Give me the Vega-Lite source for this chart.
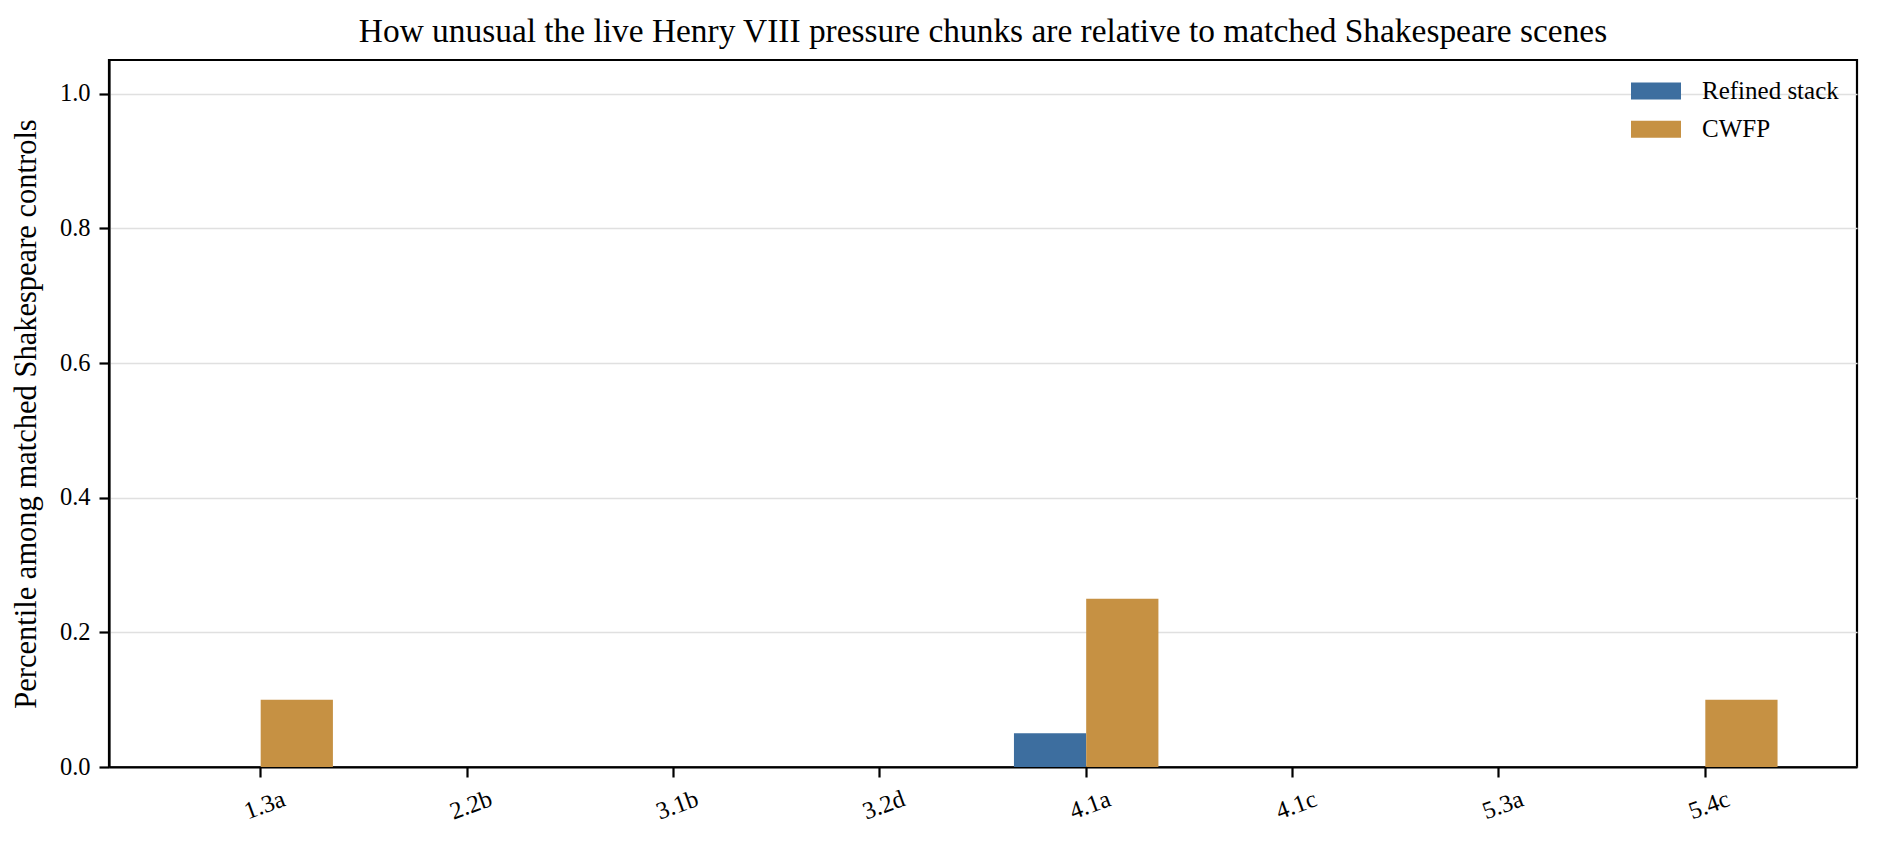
{
  "$schema": "https://vega.github.io/schema/vega-lite/v6.json",
  "width": 1748,
  "height": 707,
  "autosize": {"type": "none"},
  "padding": {"left": 109, "top": 60, "right": 23, "bottom": 78},
  "background": "white",
  "title": {
    "text": "How unusual the live Henry VIII pressure chunks are relative to matched Shakespeare scenes",
    "font": "Liberation Serif",
    "fontSize": 33.4,
    "fontWeight": "normal",
    "color": "black",
    "anchor": "middle",
    "frame": "group",
    "baseline": "bottom",
    "offset": 10,
    "dy": 32
  },
  "config": {
    "view": {"stroke": "black", "strokeWidth": 2.2},
    "font": "Liberation Serif"
  },
  "data": {
    "values": [
      {"chunk": "1.3a", "method": "Refined stack", "percentile": 0.0},
      {"chunk": "1.3a", "method": "CWFP", "percentile": 0.1},
      {"chunk": "2.2b", "method": "Refined stack", "percentile": 0.0},
      {"chunk": "2.2b", "method": "CWFP", "percentile": 0.0},
      {"chunk": "3.1b", "method": "Refined stack", "percentile": 0.0},
      {"chunk": "3.1b", "method": "CWFP", "percentile": 0.0},
      {"chunk": "3.2d", "method": "Refined stack", "percentile": 0.0},
      {"chunk": "3.2d", "method": "CWFP", "percentile": 0.0},
      {"chunk": "4.1a", "method": "Refined stack", "percentile": 0.05},
      {"chunk": "4.1a", "method": "CWFP", "percentile": 0.25},
      {"chunk": "4.1c", "method": "Refined stack", "percentile": 0.0},
      {"chunk": "4.1c", "method": "CWFP", "percentile": 0.0},
      {"chunk": "5.3a", "method": "Refined stack", "percentile": 0.0},
      {"chunk": "5.3a", "method": "CWFP", "percentile": 0.0},
      {"chunk": "5.4c", "method": "Refined stack", "percentile": 0.0},
      {"chunk": "5.4c", "method": "CWFP", "percentile": 0.1}
    ]
  },
  "mark": {"type": "bar"},
  "encoding": {
    "x": {
      "field": "chunk",
      "type": "nominal",
      "sort": null,
      "scale": {"paddingInner": 0.3, "paddingOuter": 0.385},
      "axis": {
        "title": null,
        "labelAngle": -20,
        "labelAlign": "center",
        "labelBaseline": "top",
        "labelFont": "Liberation Serif",
        "labelFontSize": 24.5,
        "labelColor": "black",
        "labelPadding": 17,
        "tickColor": "black",
        "tickSize": 10,
        "tickWidth": 2.2,
        "domainColor": "black",
        "domainWidth": 2.2,
        "grid": false
      }
    },
    "xOffset": {
      "field": "method",
      "type": "nominal",
      "sort": ["Refined stack", "CWFP"],
      "scale": {"paddingInner": 0, "paddingOuter": 0}
    },
    "y": {
      "field": "percentile",
      "type": "quantitative",
      "scale": {"domain": [0, 1.05], "nice": false, "zero": true},
      "axis": {
        "title": "Percentile among matched Shakespeare controls",
        "titleFont": "Liberation Serif",
        "titleFontSize": 30.5,
        "titleFontWeight": "normal",
        "titleColor": "black",
        "titlePadding": 18,
        "values": [0, 0.2, 0.4, 0.6, 0.8, 1.0],
        "format": ".1f",
        "labelFont": "Liberation Serif",
        "labelFontSize": 24.5,
        "labelColor": "black",
        "labelPadding": 9,
        "tickColor": "black",
        "tickSize": 10,
        "tickWidth": 2.2,
        "domainColor": "black",
        "domainWidth": 2.2,
        "grid": true,
        "gridColor": "#e0e0e0",
        "gridWidth": 1.6
      }
    },
    "color": {
      "field": "method",
      "type": "nominal",
      "sort": ["Refined stack", "CWFP"],
      "scale": {"domain": ["Refined stack", "CWFP"], "range": ["#3d6e9f", "#c69143"]},
      "legend": {
        "title": null,
        "orient": "none",
        "legendX": 1522,
        "legendY": 6,
        "symbolType": "M-1,-0.34H1V0.34H-1Z",
        "symbolSize": 2500,
        "symbolStrokeWidth": 0,
        "symbolOpacity": 1,
        "labelFont": "Liberation Serif",
        "labelFontSize": 25,
        "labelColor": "black",
        "labelOffset": 21,
        "rowPadding": 0.2,
        "padding": 0
      }
    }
  }
}
